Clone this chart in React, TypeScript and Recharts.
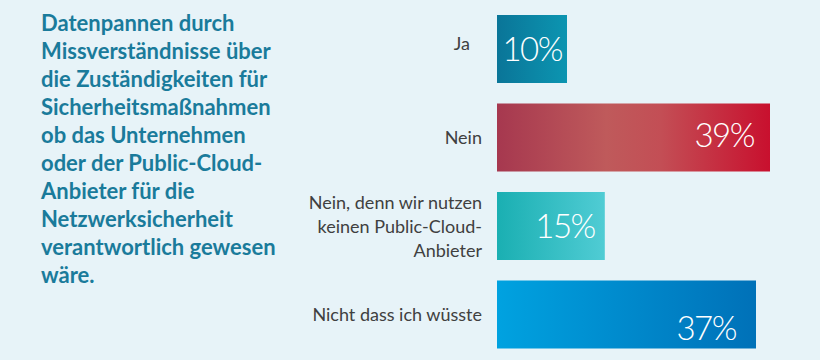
import { BarChart, Bar, XAxis, YAxis, Cell, LabelList } from 'recharts';

const CATEGORIES = ['Ja', 'Nein', 'Nein, denn wir nutzen keinen Public-Cloud-Anbieter', 'Nicht dass ich wüsste'];
const VALUES = [10, 39, 15.4, 37];
const VALUE_LABELS = ['10%', '39%', '15%', '37%'];
const TITLE_LINES = [
  'Datenpannen durch',
  'Missverständnisse über',
  'die Zuständigkeiten für',
  'Sicherheitsmaßnahmen',
  'ob das Unternehmen',
  'oder der Public-Cloud-',
  'Anbieter für die',
  'Netzwerksicherheit',
  'verantwortlich gewesen',
  'wäre.',
];

// tick text wrapping as in the original slide
const TICK_LINES: Record<string, string[]> = {
  'Nein, denn wir nutzen keinen Public-Cloud-Anbieter': ['Nein, denn wir nutzen', 'keinen Public-Cloud-', 'Anbieter'],
};
const TICK_NUDGE: Record<string, { dx: number; dy: number }> = {
  Ja: { dx: -12, dy: -6 },
};

const GRADIENTS = [
  [['0%', '#0a7598'], ['100%', '#0c95b1']],
  [['0%', '#a6384f'], ['40%', '#bf5a5b'], ['60%', '#c34e55'], ['100%', '#c8102e']],
  [['0%', '#1aafb2'], ['100%', '#50ccd4']],
  [['0%', '#00a2e0'], ['100%', '#0071b8']],
];
const LABEL_PAD = [5, 16, 10, 20];
const LABEL_DY = [0, -2, 0, 14];

const data = CATEGORIES.map((name, i) => ({ name, value: VALUES[i], label: VALUE_LABELS[i] }));

function CategoryTick(props: any) {
  const { x, y, payload } = props;
  const name = payload.value as string;
  const lines = TICK_LINES[name] || [name];
  const nudge = TICK_NUDGE[name] || { dx: 0, dy: 0 };
  const lh = 24;
  const start = -((lines.length - 1) * lh) / 2;
  return (
    <text
      x={x + nudge.dx}
      y={y + nudge.dy}
      textAnchor="end"
      fill="#404040"
      fontSize={18}
      fontFamily="Lato, 'Open Sans', sans-serif"
    >
      {lines.map((l, i) => (
        <tspan key={i} x={x + nudge.dx} y={y + nudge.dy + start + i * lh} dy="0.35em">
          {l}
        </tspan>
      ))}
    </text>
  );
}

function ValueLabel(props: any) {
  const { x, y, width, height, index, value } = props;
  return (
    <text
      x={x + width - LABEL_PAD[index]}
      y={y + height / 2 + LABEL_DY[index]}
      dy="0.36em"
      textAnchor="end"
      fill="#ffffff"
      fontSize={33}
      fontWeight={300}
      letterSpacing={-1.5}
      fontFamily="Lato, 'Open Sans', sans-serif"
    >
      {value}
    </text>
  );
}

export default function App() {
  return (
    <div
      style={{
        position: 'fixed',
        left: 0,
        top: 0,
        width: 820,
        height: 360,
        background: '#e7f3f8',
        overflow: 'hidden',
      }}
    >
      <div
        style={{
          position: 'absolute',
          left: 41,
          top: 9,
          fontFamily: "Lato, 'Open Sans', sans-serif",
          fontWeight: 700,
          fontSize: 22,
          lineHeight: '28px',
          color: '#1a7b9b',
          whiteSpace: 'nowrap',
        }}
      >
        {TITLE_LINES.map((l, i) => (
          <div key={i}>{l}</div>
        ))}
      </div>
      <div style={{ position: 'absolute', left: 0, top: 0 }}>
        <BarChart
          width={820}
          height={360}
          data={data}
          layout="vertical"
          margin={{ top: 5, right: 43, left: 0, bottom: 1 }}
          barSize={68}
        >
          <defs>
            {GRADIENTS.map((stops, i) => (
              <linearGradient key={i} id={`barGrad${i}`} x1="0" y1="0" x2="1" y2="0">
                {stops.map(([off, col]) => (
                  <stop key={off} offset={off} stopColor={col} />
                ))}
              </linearGradient>
            ))}
          </defs>
          <XAxis type="number" domain={[0, 40]} hide />
          <YAxis
            type="category"
            dataKey="name"
            width={497}
            axisLine={false}
            tickLine={false}
            tickSize={0}
            tickMargin={15}
            tick={<CategoryTick />}
            interval={0}
          />
          <Bar dataKey="value" isAnimationActive={false}>
            {data.map((_, i) => (
              <Cell key={i} fill={`url(#barGrad${i})`} />
            ))}
            <LabelList dataKey="label" content={<ValueLabel />} />
          </Bar>
        </BarChart>
      </div>
    </div>
  );
}
